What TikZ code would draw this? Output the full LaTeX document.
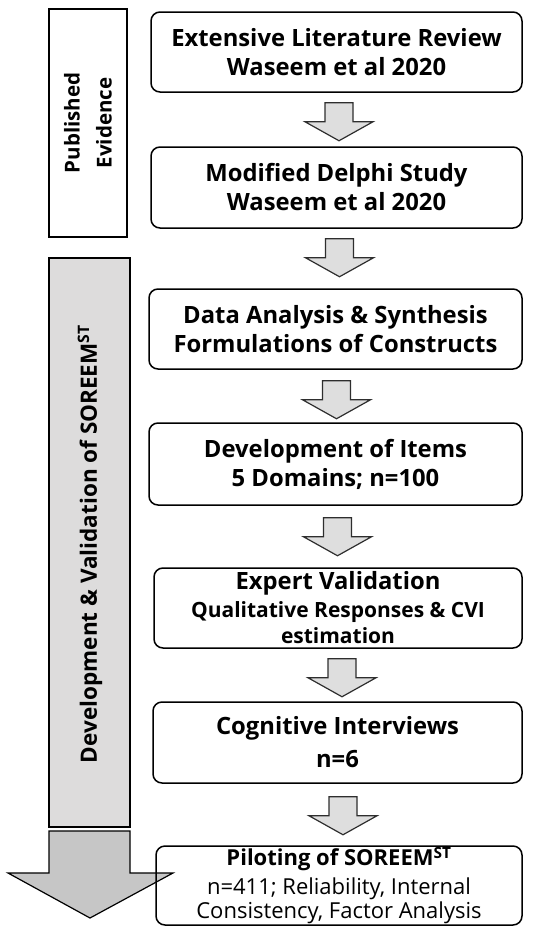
\documentclass[tikz,border=0pt]{standalone}
\usepackage{fontspec}
\setmainfont{Open Sans}
\usetikzlibrary{calc}
\definecolor{shaftgrey}{HTML}{DDDCDC}
\definecolor{headgrey}{HTML}{C6C6C6}
\definecolor{stepgrey}{HTML}{DEDEDE}
\definecolor{edgegrey}{HTML}{2E2E2E}
\tikzset{
  stage/.style={draw=black, line width=1.5pt, rounded corners=9pt, fill=white,
    align=center, inner sep=0pt, font=\bfseries\fontsize{23.8}{29}\selectfont},
  sidebox/.style={draw=black, line width=1.6pt, fill=white, align=center, inner sep=0pt,
    rotate=90, font=\bfseries\fontsize{20.5}{32}\selectfont},
  flow/.style={draw=edgegrey, line width=1.2pt, fill=stepgrey, line join=miter},
  bigflow/.style={draw=black, line width=1.2pt, line join=miter},
  flowarrow/.pic={\draw[flow] (-14,0) -- (14,0) -- (14,19) -- (34,19) -- (0,38)
      -- (-34,19) -- (-14,19) -- cycle;},
}
\begin{document}
\begin{tikzpicture}[x=1pt,y=-1pt]
\useasboundingbox (0,0) rectangle (538,926);

% left column: published evidence
\node[sidebox, minimum width=228pt, minimum height=78pt] (pub) at (88,123)
  {Published\\Evidence};

% long development arrow
\draw[bigflow, fill=shaftgrey] (49,258) rectangle (130,827);
\draw[bigflow, fill=headgrey] (49,831) -- (130,831) -- (130,873) -- (173,873)
  -- (90,918) -- (8,873) -- (49,873) -- cycle;
\node[rotate=90, font=\bfseries\fontsize{22.5}{29}\selectfont, inner sep=0pt] (dev) at (90,544)
  {Development \& Validation of SOREEM\textsuperscript{ST}};

% stages
\node[stage, minimum width=371pt, minimum height=80pt] (b1) at (336.5,52)
  {Extensive Literature Review\\Waseem et al 2020};
\node[stage, minimum width=371pt, minimum height=81pt] (b2) at (336.5,187.5)
  {Modified Delphi Study\\Waseem et al 2020};
\node[stage, minimum width=373pt, minimum height=80pt] (b3) at (335.5,329)
  {Data Analysis \& Synthesis\\Formulations of Constructs};
\node[stage, minimum width=373pt, minimum height=82pt] (b4) at (335.5,464)
  {Development of Items\\5 Domains; n=100};
\node[stage, minimum width=368pt, minimum height=80pt] (b5) at (338,608)
  {Expert Validation\\[-1pt]{\fontsize{21}{22}\selectfont Qualitative Responses \& CVI}\\[-3pt]
   {\fontsize{21}{22}\selectfont estimation}};
\node[stage, minimum width=369pt, minimum height=81pt] (b6) at (337.5,742.5)
  {Cognitive Interviews\\[4pt]n=6};
\node[stage, fill=none, minimum width=366pt, minimum height=79pt] (b7) at (339,885.5)
  {{\fontsize{22}{24}\selectfont Piloting of SOREEM\textsuperscript{ST}}\\[0pt]
   {\mdseries\fontsize{22}{24}\selectfont n=411; Reliability, Internal}\\[-5pt]
   {\mdseries\fontsize{22}{24}\selectfont Consistency, Factor Analysis}};

% step arrows between stages
\pic at ($(b1.south)+(2.5,10)$) {flowarrow};
\pic at ($(b2.south)+(3,10)$) {flowarrow};
\pic at ($(b3.south)+(1,11)$) {flowarrow};
\pic at ($(b4.south)+(2,12)$) {flowarrow};
\pic at ($(b5.south)+(4,10)$) {flowarrow};
\pic at ($(b6.south)+(5.5,13)$) {flowarrow};
\end{tikzpicture}
\end{document}
